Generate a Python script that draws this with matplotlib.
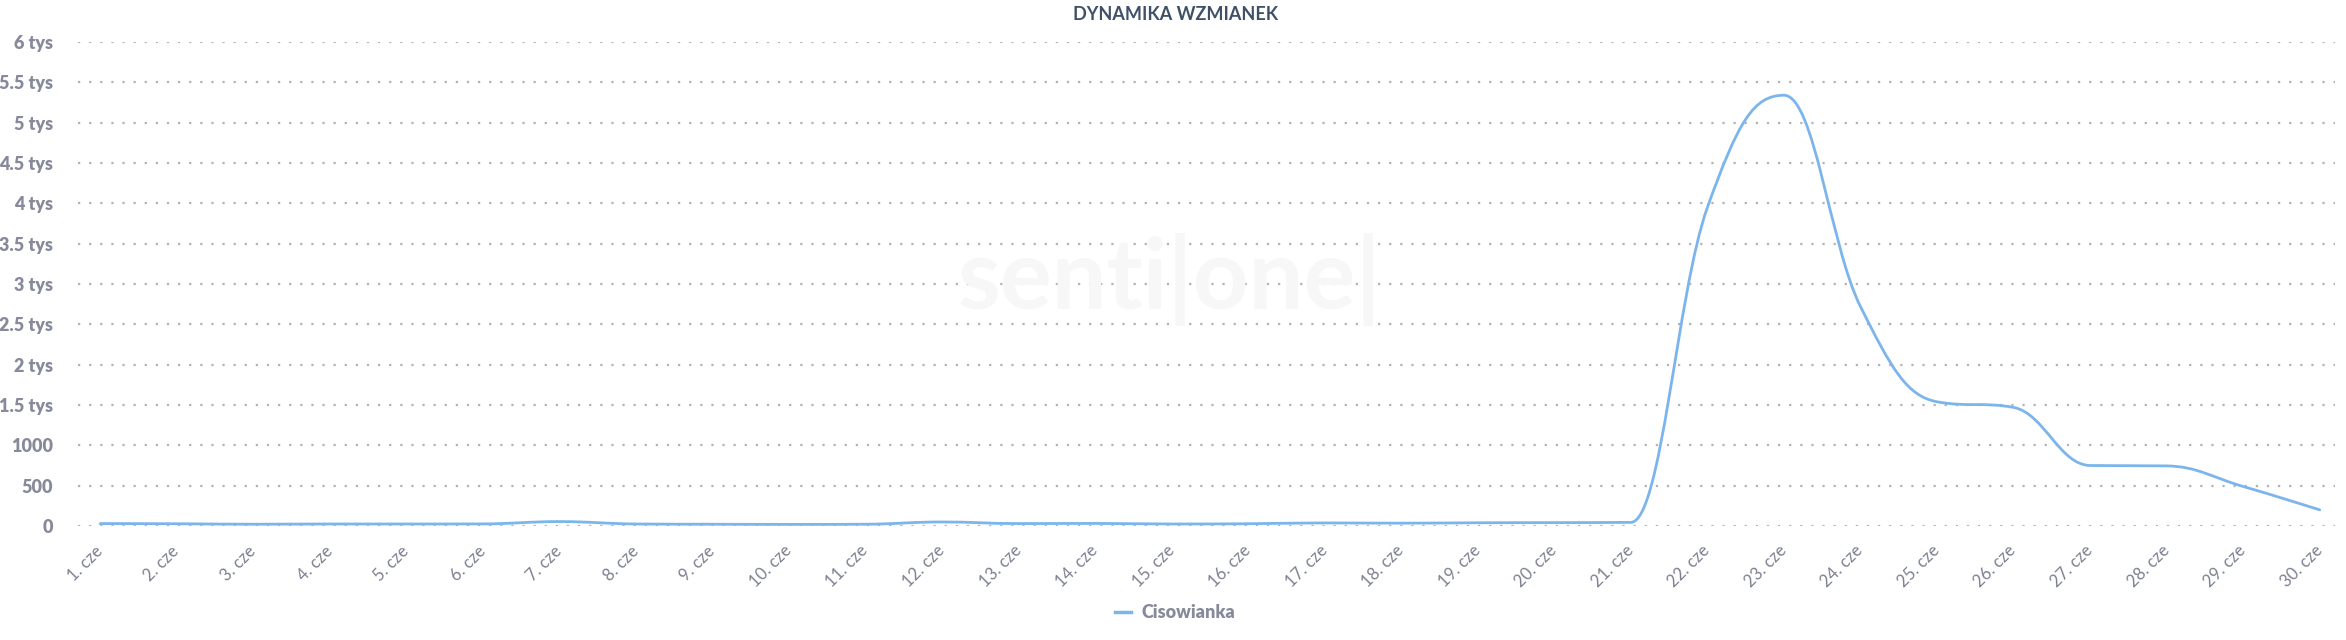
import matplotlib.pyplot as plt
from matplotlib.path import Path
from matplotlib.patches import PathPatch
import numpy as np

days = [f"{d}. cze" for d in range(1, 31)]
mentions = [30, 28, 22, 25, 25, 26, 55, 25, 22, 20,
            22, 50, 30, 32, 25, 28, 38, 35, 40, 42,
            45, 3950, 5340, 2720, 1540, 1470, 750, 745, 490, 200]
series_name = "Cisowianka"
y_ticks = [0, 500, 1000, 1500, 2000, 2500, 3000, 3500, 4000, 4500, 5000, 5500, 6000]
y_labels = ["0", "500", "1000", "1.5 tys", "2 tys", "2.5 tys", "3 tys", "3.5 tys",
            "4 tys", "4.5 tys", "5 tys", "5.5 tys", "6 tys"]

line_color = "#7cb5ec"
label_color = "#868a9a"

plt.rcParams['font.family'] = ['Lato', 'DejaVu Sans']


def spline_path(xs, ys, smoothing=1.5):
    # same control-point rule as a highcharts "spline" series
    n = len(xs)
    verts = [(xs[0], ys[0])]
    codes = [Path.MOVETO]
    right = [None] * n
    left = [None] * n
    for i in range(1, n - 1):
        x, y = xs[i], ys[i]
        px, py = xs[i - 1], ys[i - 1]
        nx, ny = xs[i + 1], ys[i + 1]
        d = smoothing + 1
        lx, ly = (smoothing * x + px) / d, (smoothing * y + py) / d
        rx, ry = (smoothing * x + nx) / d, (smoothing * y + ny) / d
        corr = ((ry - ly) * (rx - x)) / (rx - lx) + y - ry
        ly += corr
        ry += corr
        if ly > max(py, y):
            ly = max(py, y)
            ry = 2 * y - ly
        elif ly < min(py, y):
            ly = min(py, y)
            ry = 2 * y - ly
        if ry > max(ny, y):
            ry = max(ny, y)
            ly = 2 * y - ry
        elif ry < min(ny, y):
            ry = min(ny, y)
            ly = 2 * y - ry
        left[i] = (lx, ly)
        right[i] = (rx, ry)
    for i in range(1, n):
        c1 = right[i - 1] if right[i - 1] else (xs[i - 1], ys[i - 1])
        c2 = left[i] if left[i] else (xs[i], ys[i])
        verts += [c1, c2, (xs[i], ys[i])]
        codes += [Path.CURVE4] * 3
    return Path(verts, codes)


fig = plt.figure(figsize=(23.46, 6.4), dpi=100)
ax = fig.add_axes([78 / 2346, 114 / 640, (2335 - 78) / 2346, (526 - 42) / 640])

x = np.arange(len(days))
ax.add_patch(PathPatch(spline_path(x, mentions), facecolor='none',
                       edgecolor=line_color, lw=2.0, capstyle='round', zorder=3))

ax.set_xlim(-0.29, 29.2)
ax.set_ylim(0, 6000)

ax.set_yticks(y_ticks)
ax.set_yticklabels(y_labels, fontsize=13, fontweight='heavy', color=label_color)
ax.set_xticks(x)
ax.set_xticklabels(days, rotation=45, ha='right', va='center',
                   rotation_mode='anchor', fontsize=12, color='#7d8090')
ax.tick_params(axis='y', length=0, pad=18)
ax.tick_params(axis='x', length=0, pad=16)

ax.grid(axis='y', color='#b3b3b3', linestyle=(0, (1, 4)), linewidth=1.6)
ax.set_axisbelow(True)
for s in ax.spines.values():
    s.set_visible(False)

# faint watermark
fig.text(1170 / 2346, 1 - 280 / 640, "senti|one|", fontsize=70, color='#f7f7f7',
         ha='center', va='center', fontweight='bold', zorder=0)

fig.text(1176 / 2346, 1 - 15 / 640, "DYNAMIKA WZMIANEK", fontsize=13, fontweight='bold',
         color='#3f5068', ha='center', va='center',
         family=['Liberation Sans Narrow', 'Lato'])

# legend
leg_line, = ax.plot([], [], color=line_color, lw=2.5, label=series_name)
leg = fig.legend(handles=[leg_line], loc='center', bbox_to_anchor=(1175 / 2346, 1 - 613 / 640),
                 frameon=False, handlelength=0.9, handletextpad=0.6,
                 prop={'family': 'Lato', 'weight': 'heavy', 'size': 13})
for t in leg.get_texts():
    t.set_color(label_color)

fig.savefig("out.png", dpi=100)
